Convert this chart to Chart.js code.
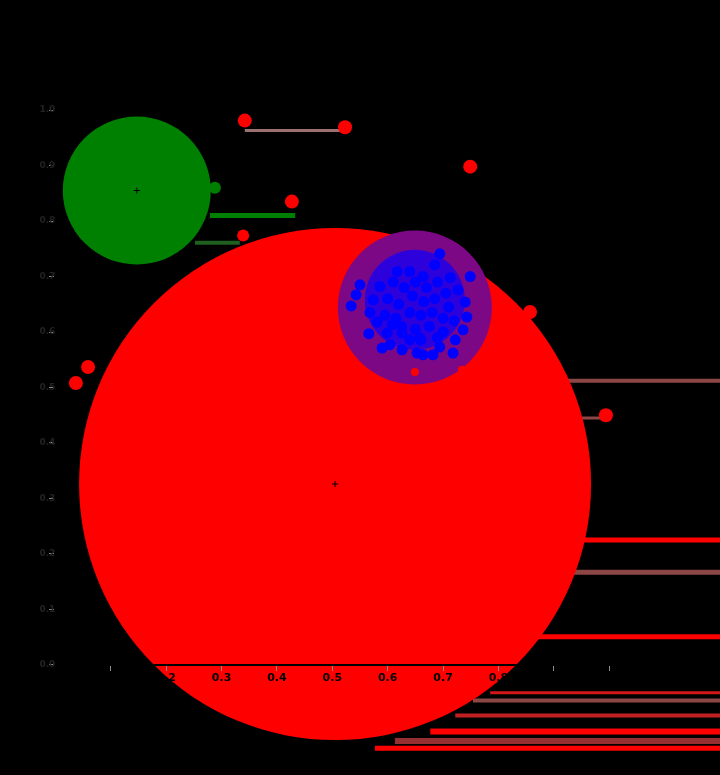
<!DOCTYPE html>
<html>
<head>
<meta charset="utf-8">
<script src="https://cdn.jsdelivr.net/npm/chart.js@4/dist/chart.umd.min.js"></script>
<style>
  html, body { margin: 0; padding: 0; background: #000; }
  canvas { display: block; }
</style>
</head>
<body>
<canvas id="plot" width="720" height="775"></canvas>
<script>
// axis ticks
const tickValues = [0, 0.1, 0.2, 0.3, 0.4, 0.5, 0.6, 0.7, 0.8, 0.9, 1.0];
const tickLabels = ["0.0", "0.1", "0.2", "0.3", "0.4", "0.5", "0.6", "0.7", "0.8", "0.9", "1.0"];

// big circles: red, green, purple (x, y, radius)
const redCircle = [0.505, 0.326, 256];
const greenCircle = [0.147, 0.855, 74];
const purpleCircle = [0.649, 0.644, 77];
const blueCore = [0.649, 0.658, 50];

// red points
const redX = [0.342, 0.523, 0.749, 0.427, 0.059, 0.037, 0.994, 0.339, 0.857, 0.734, 0.649];
const redY = [0.981, 0.969, 0.898, 0.835, 0.537, 0.508, 0.450, 0.774, 0.636, 0.532, 0.528];
const redSize = [7, 7, 7, 7, 7, 7, 7, 6, 7, 4, 4];

// green point on the green circle
const greenX = [0.288];
const greenY = [0.860];

// blue points
const blueX = [0.694, 0.749, 0.550, 0.543, 0.534, 0.581, 0.608, 0.566, 0.599, 0.626, 0.604, 0.590,
  0.626, 0.640, 0.658, 0.653, 0.664, 0.682, 0.718, 0.694, 0.685, 0.713, 0.727, 0.740, 0.743, 0.736,
  0.722, 0.640, 0.664, 0.617, 0.586, 0.574, 0.568,
  0.610, 0.630, 0.650, 0.670, 0.690, 0.705, 0.600, 0.620, 0.645, 0.665, 0.685, 0.710, 0.595, 0.615,
  0.640, 0.660, 0.680, 0.700, 0.720, 0.625, 0.650, 0.675, 0.700, 0.660, 0.690];
const blueY = [0.741, 0.700, 0.685, 0.667, 0.647, 0.618, 0.613, 0.597, 0.598, 0.598, 0.577, 0.571,
  0.568, 0.586, 0.589, 0.562, 0.559, 0.559, 0.562, 0.573, 0.721, 0.698, 0.676, 0.654, 0.627, 0.604,
  0.586, 0.709, 0.700, 0.709, 0.682, 0.658, 0.635,
  0.690, 0.680, 0.690, 0.680, 0.690, 0.670, 0.660, 0.650, 0.665, 0.655, 0.660, 0.645, 0.630, 0.625,
  0.635, 0.630, 0.635, 0.625, 0.620, 0.610, 0.605, 0.610, 0.600, 0.585, 0.590];

// horizontal segments: start x, end x, y
const segX0 = [0.342, 0.279, 0.252, 0.920, 0.938, 0.938, 0.929, 0.866, 0.785, 0.754, 0.722, 0.677, 0.613, 0.577];
const segX1 = [0.523, 0.433, 0.333, 1.3, 0.994, 1.3, 1.3, 1.3, 1.3, 1.3, 1.3, 1.3, 1.3, 1.3];
const segY = [0.963, 0.810, 0.761, 0.512, 0.445, 0.225, 0.167, 0.051, -0.050, -0.064, -0.091, -0.120, -0.137, -0.150];
const segColor = ["#9a7070", "#008000", "#1f5f1f", "#8c4646", "#8c4646", "#ff0000", "#8c4646",
  "#ff0000", "#d01818", "#8c4646", "#c02020", "#ff0000", "#963030", "#ff0000"];
const segWidth = [3, 5, 4, 4, 3, 5, 5, 5, 3, 4, 4, 6, 6, 5];

// centre marks
const crossX = [0.505, 0.147];
const crossY = [0.326, 0.855];

const zip = (xs, ys) => xs.map((x, i) => ({ x: x, y: ys[i] }));
const bub = (c) => [{ x: c[0], y: c[1], r: c[2] }];

const datasets = [];

segX0.forEach((x0, i) => {
  datasets.push({
    type: "line",
    data: [{ x: x0, y: segY[i] }, { x: segX1[i], y: segY[i] }],
    borderColor: segColor[i],
    borderWidth: segWidth[i],
    pointRadius: 0,
    order: 10
  });
});

datasets.push({ type: "bubble", data: bub(redCircle), backgroundColor: "#ff0000", borderWidth: 0, order: 6 });
datasets.push({ type: "bubble", data: bub(greenCircle), backgroundColor: "#008000", borderWidth: 0, order: 6 });
datasets.push({ type: "bubble", data: bub(purpleCircle), backgroundColor: "#7c0886", borderWidth: 0, order: 5 });
datasets.push({ type: "bubble", data: bub(blueCore), backgroundColor: "rgba(30,0,235,0.85)", borderWidth: 0, order: 4 });
datasets.push({
  type: "scatter", data: zip(blueX, blueY), backgroundColor: "#0000ff", borderWidth: 0,
  pointRadius: 5.5, order: 3
});
datasets.push({
  type: "scatter", data: zip(redX, redY), backgroundColor: "#ff0000", borderWidth: 0,
  pointRadius: redSize, order: 2
});
datasets.push({
  type: "scatter", data: zip(greenX, greenY), backgroundColor: "#008000", borderWidth: 0,
  pointRadius: 6, order: 2
});
datasets.push({
  type: "scatter", data: zip(crossX, crossY), pointStyle: "cross", borderColor: "#000",
  borderWidth: 1, pointRadius: 3, order: 1
});

const fixTicks = (scale) => {
  scale.ticks = tickValues.map(v => ({ value: v }));
};

new Chart(document.getElementById("plot"), {
  type: "bubble",
  data: { datasets: datasets },
  options: {
    responsive: false,
    animation: false,
    devicePixelRatio: 1,
    layout: { padding: 0, autoPadding: false },
    plugins: { legend: { display: false }, tooltip: { enabled: false } },
    scales: {
      x: {
        type: "linear",
        min: -0.1,
        max: 1.2,
        position: { y: 0 },
        afterBuildTicks: fixTicks,
        grid: { drawOnChartArea: false, color: "#8a8a8a", tickLength: 5, z: 1 },
        border: { color: "#000", width: 2, z: 1 },
        ticks: {
          z: 1,
          color: "#000",
          padding: 2,
          font: { family: "DejaVu Sans", size: 11, weight: "bold" },
          callback: (v, i) => tickLabels[i]
        }
      },
      y: {
        type: "linear",
        min: -0.185,
        max: 1.185,
        position: { x: 0 },
        afterBuildTicks: fixTicks,
        grid: { drawOnChartArea: false, color: "#8a8a8a", tickLength: 5, z: 1 },
        border: { color: "#000", width: 2, z: 1 },
        ticks: {
          z: 1,
          color: "#222",
          padding: 2,
          font: { family: "DejaVu Sans", size: 9, weight: "bold" },
          callback: (v, i) => tickLabels[i]
        }
      }
    }
  }
});
</script>
</body>
</html>
